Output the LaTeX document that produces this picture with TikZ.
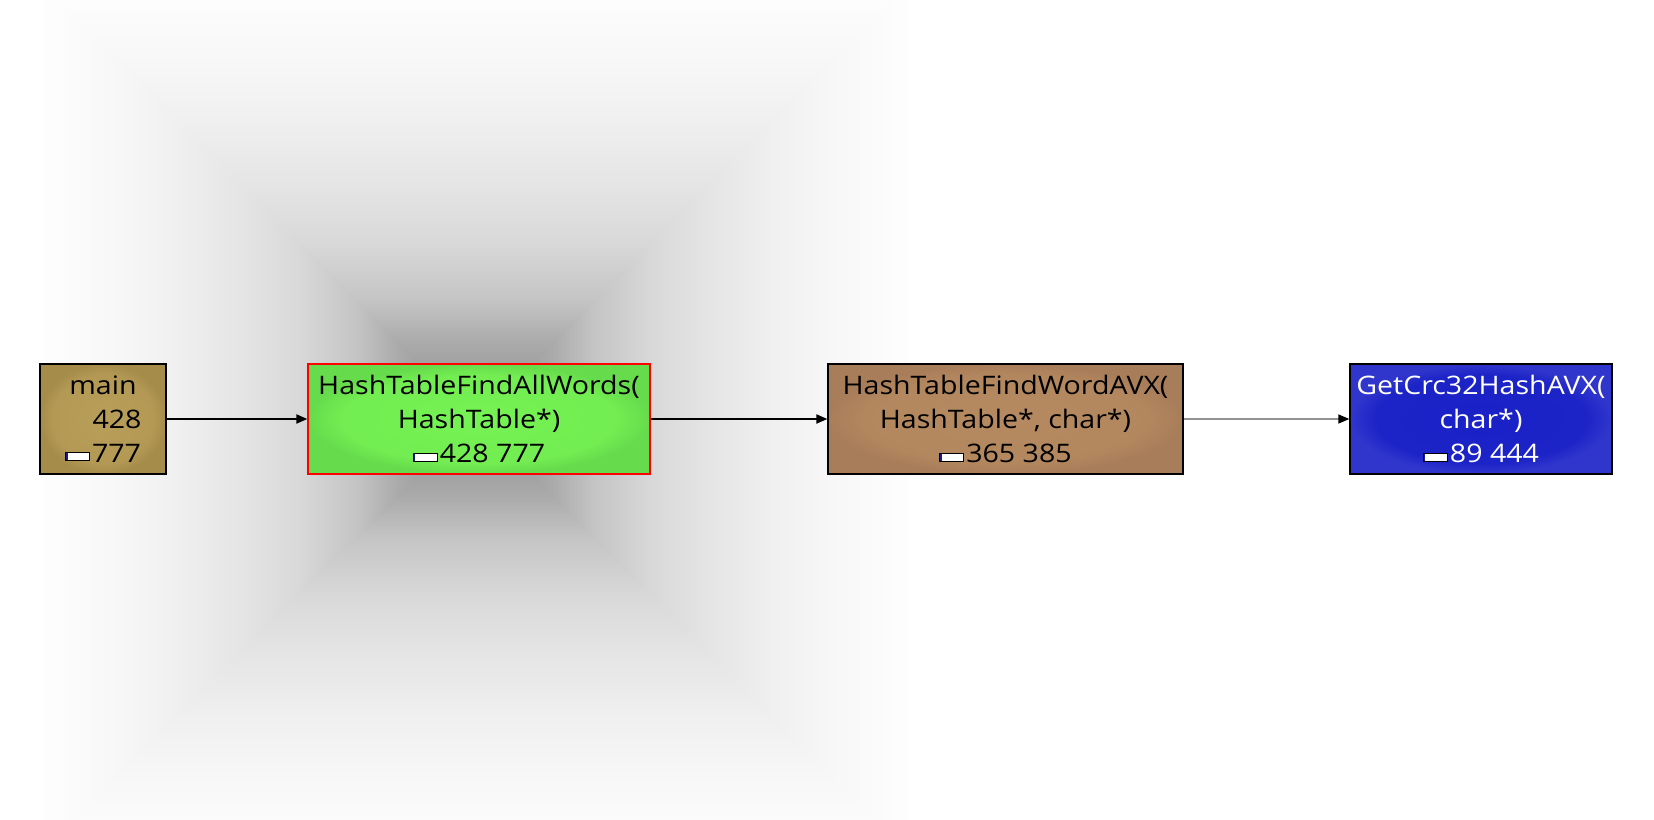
\documentclass[tikz,border=0pt]{standalone}
\usepackage{fontspec}
\newfontfamily\fnfont{Open Sans}[FakeStretch=1.12]
\usetikzlibrary{arrows.meta}
\pgfdeclareverticalshading{pyr}{100bp}{%
 rgb(0bp)=(0.56,0.56,0.56); rgb(25bp)=(0.56,0.56,0.56);
 rgb(31.8bp)=(0.64,0.64,0.64); rgb(34bp)=(0.67,0.67,0.67);
 rgb(38.7bp)=(0.77,0.77,0.77); rgb(45.5bp)=(0.85,0.85,0.85);
 rgb(52.5bp)=(0.90,0.90,0.90); rgb(59.5bp)=(0.94,0.94,0.94);
 rgb(66.5bp)=(0.97,0.97,0.97); rgb(71.5bp)=(0.985,0.985,0.985);
 rgb(75bp)=(0.995,0.995,0.995); rgb(100bp)=(0.995,0.995,0.995)}
\pgfdeclareradialshading{glowmain}{\pgfpoint{0bp}{0bp}}{%
 rgb(0bp)=(0.72,0.62,0.35); rgb(20bp)=(0.70,0.60,0.33); rgb(25bp)=(0.65,0.55,0.29); rgb(50bp)=(0.65,0.55,0.29)}
\pgfdeclareradialshading{glowall}{\pgfpoint{0bp}{0bp}}{%
 rgb(0bp)=(0.46,0.95,0.33); rgb(20bp)=(0.45,0.93,0.32); rgb(25bp)=(0.40,0.86,0.30); rgb(50bp)=(0.40,0.86,0.30)}
\pgfdeclareradialshading{glowword}{\pgfpoint{0bp}{0bp}}{%
 rgb(0bp)=(0.71,0.54,0.38); rgb(20bp)=(0.70,0.53,0.37); rgb(25bp)=(0.66,0.49,0.35); rgb(50bp)=(0.66,0.49,0.35)}
\pgfdeclareradialshading{glowcrc}{\pgfpoint{0bp}{0bp}}{%
 rgb(0bp)=(0.10,0.13,0.78); rgb(20bp)=(0.11,0.14,0.78); rgb(25bp)=(0.19,0.21,0.80); rgb(50bp)=(0.19,0.21,0.80)}
\newcommand\minibar{{\color{black}\raisebox{2pt}{\fboxsep=0pt\fboxrule=1pt\fbox{\textcolor[rgb]{0.1,0.1,0.6}{\rule{1.5pt}{7pt}}\textcolor{white}{\rule{21.5pt}{7pt}}}}}\hspace{2pt}}
\tikzset{
 fn/.style={draw=black, line width=1.3pt, rectangle, inner sep=0pt, align=center,
   minimum height=110pt, font={\fnfont\fontsize{25.5}{34}\selectfont}, text=black},
 conn/.style={line width=2pt, black, -{Triangle[length=11pt,width=9pt]}},
 connlight/.style={line width=1.5pt, gray!85, -{Triangle[length=11pt,width=9pt,fill=black,color=black]}},
}
\begin{document}
\begin{tikzpicture}[x=1pt,y=-1pt]
\useasboundingbox (0,0) rectangle (1654,819);
\fill[white] (0,0) rectangle (1654,819);
\begin{scope}
\clip (0,0) rectangle (1654,819);
\shade[shading=pyr, shading angle=90] (42,-14) -- (42,852) -- (475,419) -- cycle;
\shade[shading=pyr, shading angle=-90] (908,-14) -- (908,852) -- (475,419) -- cycle;
\shade[shading=pyr, shading angle=0] (42,-14) -- (908,-14) -- (477,419) -- (473,419) -- cycle;
\shade[shading=pyr, shading angle=180] (42,852) -- (908,852) -- (477,419) -- (473,419) -- cycle;
\end{scope}
\node[fn, shading=glowmain, minimum width=126pt] (main) at (103,419)
  {main\\\hspace{28pt}428\\\minibar777};
\node[fn, shading=glowall, draw=red, minimum width=342pt] (all) at (479,419)
  {HashTableFindAllWords(\\HashTable*)\\\minibar428 777};
\node[fn, shading=glowword, minimum width=355pt] (word) at (1005.5,419)
  {HashTableFindWordAVX(\\HashTable*, char*)\\\minibar365 385};
\node[fn, shading=glowcrc, text=white, minimum width=262pt] (crc) at (1481,419)
  {GetCrc32HashAVX(\\char*)\\\minibar89 444};
\draw[conn] (main.east) -- (all.west);
\draw[conn] (all.east) -- (word.west);
\draw[connlight] (word.east) -- (crc.west);
\end{tikzpicture}
\end{document}
